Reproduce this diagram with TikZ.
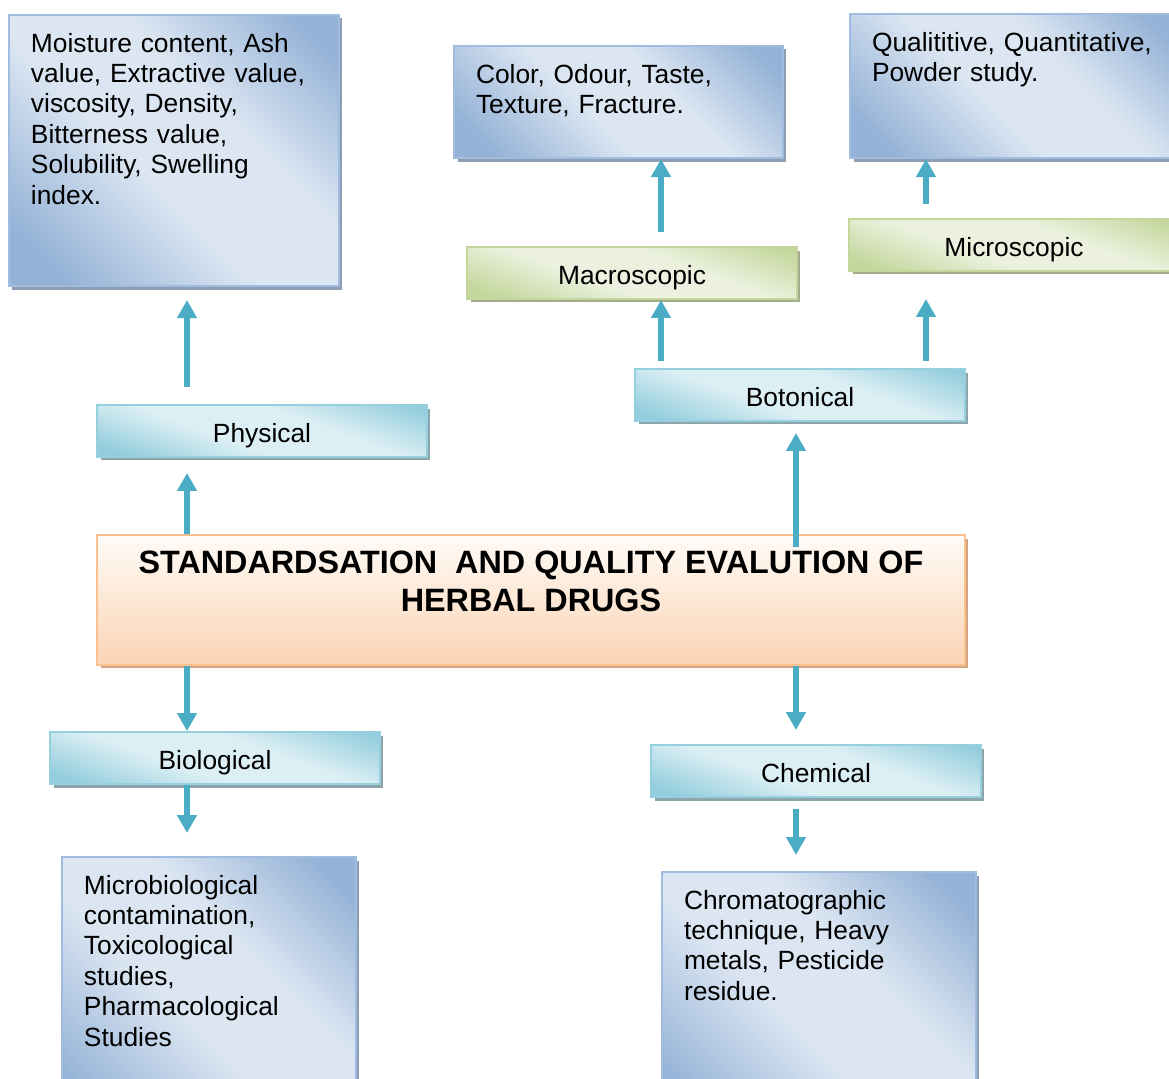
\documentclass[tikz,border=0pt]{standalone}
\usepackage{fontspec}
\setmainfont{Liberation Sans}
\usetikzlibrary{arrows.meta, shadows}

\definecolor{flowblue}{RGB}{75, 172, 198}
\definecolor{detaildark}{RGB}{149, 179, 215}
\definecolor{detaillight}{RGB}{220, 230, 242}
\definecolor{detailline}{RGB}{160, 188, 222}
\definecolor{detailshadow}{RGB}{140, 157, 180}
\definecolor{headdark}{RGB}{147, 205, 221}
\definecolor{headlight}{RGB}{220, 239, 244}
\definecolor{headline}{RGB}{150, 208, 222}
\definecolor{headshadow}{RGB}{140, 164, 170}
\definecolor{greendark}{RGB}{195, 214, 155}
\definecolor{greenlight}{RGB}{235, 241, 222}
\definecolor{greenshadow}{RGB}{165, 170, 140}
\definecolor{peachtop}{RGB}{255, 251, 247}
\definecolor{peachbottom}{RGB}{251, 212, 180}
\definecolor{peachline}{RGB}{250, 192, 144}
\definecolor{peachshadow}{RGB}{210, 164, 128}

% diagonal fades: dark corners, light band through the middle
\pgfdeclarehorizontalshading{detailfade}{100bp}{color(0bp)=(detaildark); color(22bp)=(detaildark); color(44bp)=(detaillight); color(60bp)=(detaillight); color(80bp)=(detaildark); color(100bp)=(detaildark)}
\pgfdeclarehorizontalshading{headfade}{100bp}{color(0bp)=(headdark); color(22bp)=(headdark); color(42bp)=(headlight); color(60bp)=(headlight); color(80bp)=(headdark); color(100bp)=(headdark)}
\pgfdeclarehorizontalshading{greenfade}{100bp}{color(0bp)=(greendark); color(22bp)=(greendark); color(42bp)=(greenlight); color(60bp)=(greenlight); color(80bp)=(greendark); color(100bp)=(greendark)}

\newcommand{\diagfont}{\fontsize{15pt}{17.3pt}\selectfont}
\newcommand{\headingfont}{\fontsize{18.4pt}{21.2pt}\selectfont\bfseries}

\begin{document}
\begin{tikzpicture}[x=0.02cm, y=-0.02cm,
  detail/.style={draw=detailline, line width=0.04cm, shade, shading=detailfade, shading angle=45,
    drop shadow={shadow xshift=0.07cm, shadow yshift=-0.07cm, fill=detailshadow, opacity=1},
    anchor=north west, align=left, inner xsep=0.44cm, inner ysep=0.36cm, font=\diagfont},
  headbox/.style={draw=headline, line width=0.04cm, shade, shading=headfade, shading angle=70,
    drop shadow={shadow xshift=0.07cm, shadow yshift=-0.07cm, fill=headshadow, opacity=1},
    minimum width=6.6cm, minimum height=1.04cm, inner sep=0pt, text height=0.5cm, text depth=0.04cm,
    font=\diagfont},
  greenbox/.style={headbox, draw=greendark, shading=greenfade,
    drop shadow={shadow xshift=0.07cm, shadow yshift=-0.07cm, fill=greenshadow, opacity=1}},
  mainbox/.style={draw=peachline, line width=0.04cm, top color=peachtop, bottom color=peachbottom,
    drop shadow={shadow xshift=0.07cm, shadow yshift=-0.07cm, fill=peachshadow, opacity=1},
    minimum width=17.36cm, minimum height=2.6cm, inner sep=0pt},
  titletext/.style={anchor=north, align=center, inner sep=0pt, font=\headingfont},
  flow/.style={draw=flowblue, line width=0.11cm, -{Triangle[width=0.38cm, length=0.36cm]}}]

  \useasboundingbox (0, 0) rectangle (1169, 1078);

  % Central box
  \node[mainbox] (main) at (531, 600) {};
  \node[titletext] (title) at (531, 551) {STANDARDSATION~ AND QUALITY EVALUTION OF\\HERBAL DRUGS};

  % Branch headings
  \node[headbox] (phys) at (262, 431) {Physical};
  \node[headbox] (bot) at (800, 395) {Botonical};
  \node[greenbox] (macro) at (632, 273) {Macroscopic};
  \node[greenbox] (micro) at (1014, 245) {Microscopic};
  \node[headbox] (bio) at (215, 758) {Biological};
  \node[headbox] (chem) at (816, 771) {Chemical};

  % Parameters under each heading
  \node[detail, text width=5.72cm, text depth=4.32cm] (physdet) at (8, 14) {Moisture content, Ash\\value, Extractive value,\\viscosity, Density,\\Bitterness value,\\Solubility, Swelling\\index.};
  \node[detail, text width=5.7cm, text depth=1.14cm] (macrodet) at (453, 45) {Color, Odour, Taste,\\Texture, Fracture.};
  \node[detail, text width=5.72cm, text depth=1.78cm] (microdet) at (849, 13) {Qualititive, Quantitative,\\Powder study.};
  \node[detail, text width=5.0cm, text depth=4.38cm] (biodet) at (61, 856) {Microbiological\\contamination,\\Toxicological\\studies,\\Pharmacological\\Studies};
  \node[detail, text width=5.4cm, text depth=4.08cm] (chemdet) at (661, 871) {Chromatographic\\technique, Heavy\\metals, Pesticide\\residue.};

  % Arrow columns
  \coordinate (colA) at (187, 0);
  \coordinate (colB) at (661, 0);
  \coordinate (colC) at (796, 0);
  \coordinate (colD) at (926, 0);

  \draw[flow, shorten >=0.3cm] (main.north -| colA) -- (phys.south -| colA);
  \draw[flow, shorten <=0.34cm, shorten >=0.26cm] (phys.north -| colA) -- (physdet.south -| colA);
  \draw[flow, shorten <=-0.26cm, shorten >=0.22cm] (main.north -| colC) -- (bot.south -| colC);
  \draw[flow, shorten <=0.14cm] (bot.north -| colB) -- (macro.south -| colB);
  \draw[flow, shorten <=0.28cm] (macro.north -| colB) -- (macrodet.south -| colB);
  \draw[flow, shorten <=0.14cm, shorten >=0.54cm] (bot.north -| colD) -- (micro.south -| colD);
  \draw[flow, shorten <=0.28cm] (micro.north -| colD) -- (microdet.south -| colD);
  \draw[flow] (main.south -| colA) -- (bio.north -| colA);
  \draw[flow, shorten >=0.46cm] (bio.south -| colA) -- (biodet.north -| colA);
  \draw[flow, shorten >=0.28cm] (main.south -| colC) -- (chem.north -| colC);
  \draw[flow, shorten <=0.22cm, shorten >=0.32cm] (chem.south -| colC) -- (chemdet.north -| colC);
\end{tikzpicture}
\end{document}
